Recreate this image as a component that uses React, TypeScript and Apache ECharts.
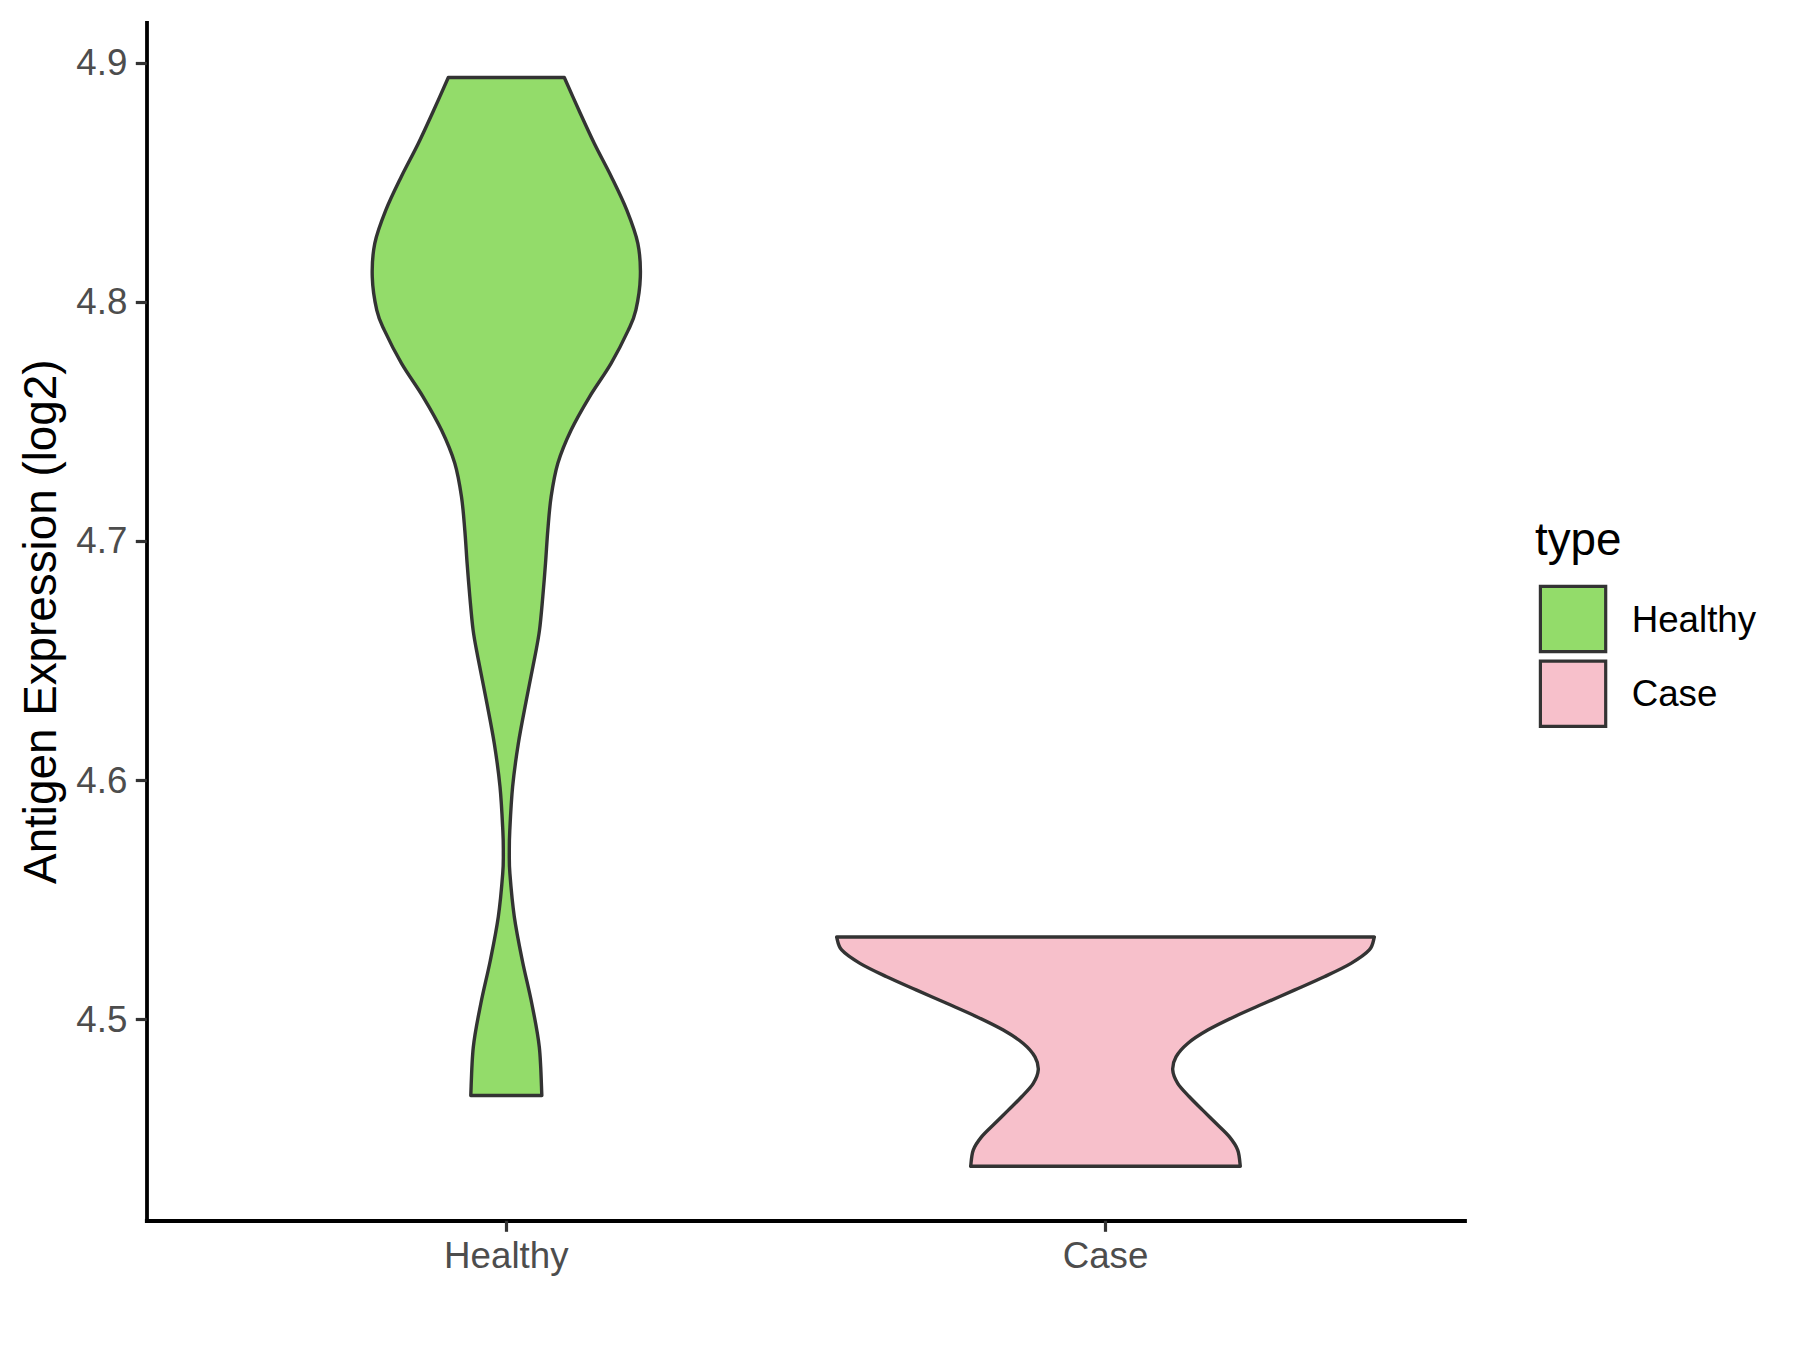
import React, { useEffect, useRef } from "react";
import * as echarts from "echarts";

// ---- data ----
const categories = ["Healthy", "Case"];
const categoryPositions = [1, 2];
const yTicks = [4.5, 4.6, 4.7, 4.8, 4.9];
const yMin = 4.4156;
const yMax = 4.9167;

// violin outline: y value (top -> bottom) and half width (in category units)
const healthyY = [4.8939, 4.8803, 4.8663, 4.8524, 4.8384, 4.8245, 4.8105, 4.7966, 4.7882, 4.7743, 4.7603, 4.7464, 4.7325, 4.7185, 4.7046, 4.6906, 4.6767, 4.6627, 4.6515, 4.6334, 4.6152, 4.5971, 4.5789, 4.5699, 4.5608, 4.5427, 4.5245, 4.5064, 4.4882, 4.468];
const healthyHalf = [0.0968, 0.121, 0.1469, 0.1753, 0.2011, 0.2195, 0.2237, 0.2162, 0.2036, 0.1749, 0.1389, 0.1082, 0.086, 0.0748, 0.0693, 0.0654, 0.0609, 0.0554, 0.0476, 0.0334, 0.02, 0.0105, 0.0058, 0.005, 0.006, 0.0134, 0.0267, 0.0426, 0.0551, 0.0593];

const caseY = [4.5343, 4.5289, 4.5233, 4.5177, 4.5121, 4.5066, 4.501, 4.4954, 4.4898, 4.4842, 4.4787, 4.4731, 4.4675, 4.4619, 4.4564, 4.4508, 4.4452, 4.4384];
const caseHalf = [0.4487, 0.4403, 0.4098, 0.3652, 0.3151, 0.2651, 0.215, 0.1706, 0.1372, 0.1177, 0.1122, 0.1205, 0.1399, 0.1622, 0.1844, 0.2066, 0.2207, 0.225];

const fills = ["#93DC6A", "#F7C0CB"];
const FONT = "'Liberation Sans', Arial, Helvetica, sans-serif";

function catmull(pts: number[][]): string {
  let d = "";
  for (let i = 0; i < pts.length - 1; i++) {
    const p0 = pts[i - 1] || pts[i];
    const p1 = pts[i];
    const p2 = pts[i + 1];
    const p3 = pts[i + 2] || p2;
    const c1x = p1[0] + (p2[0] - p0[0]) / 6;
    const c1y = p1[1] + (p2[1] - p0[1]) / 6;
    const c2x = p2[0] - (p3[0] - p1[0]) / 6;
    const c2y = p2[1] - (p3[1] - p1[1]) / 6;
    d += ` C ${c1x} ${c1y} ${c2x} ${c2y} ${p2[0]} ${p2[1]}`;
  }
  return d;
}

function violinRender(ys: number[], hws: number[], fill: string) {
  return (params: any, api: any) => {
    const xc = api.value(0);
    const left = ys.map((y, i) => api.coord([xc - hws[i], y]));
    const right = ys.map((y, i) => api.coord([xc + hws[i], y])).reverse();
    const d =
      `M ${left[0][0]} ${left[0][1]}` +
      catmull(left) +
      ` L ${right[0][0]} ${right[0][1]}` +
      catmull(right) +
      " Z";
    return {
      type: "path",
      shape: { pathData: d },
      style: { fill, stroke: "#333333", lineWidth: 3.4, lineJoin: "round" },
    };
  };
}

export default function App() {
  const ref = useRef<HTMLDivElement>(null);
  useEffect(() => {
    document.body.style.margin = "0";
    const chart = echarts.init(ref.current!, undefined, { renderer: "svg" });
    const option: any = {
      animation: false,
      backgroundColor: "#ffffff",
      grid: { left: 146.8, top: 23, width: 1318.2, height: 1197.8, containLabel: false },
      xAxis: {
        type: "value",
        min: 0.4,
        max: 2.6,
        splitLine: { show: false },
        axisLine: { show: true, onZero: false, lineStyle: { color: "#000000", width: 3.8, cap: "square" } },
        axisTick: { show: true, length: 11, customValues: categoryPositions, lineStyle: { color: "#333333", width: 3.2 } },
        axisLabel: {
          customValues: categoryPositions,
          formatter: (v: number) => categories[Math.round(v) - 1] || "",
          color: "#4D4D4D",
          fontSize: 36.7,
          fontFamily: FONT,
          margin: 16.5,
        },
      },
      yAxis: {
        type: "value",
        min: yMin,
        max: yMax,
        splitLine: { show: false },
        axisLine: { show: true, onZero: false, lineStyle: { color: "#000000", width: 3.8, cap: "square" } },
        axisTick: { show: true, length: 11, customValues: yTicks, lineStyle: { color: "#333333", width: 3.2 } },
        axisLabel: {
          customValues: yTicks,
          formatter: (v: number) => v.toFixed(1),
          color: "#4D4D4D",
          fontSize: 36.7,
          fontFamily: FONT,
          margin: 19.5,
        },
      },
      legend: {
        data: categories,
        orient: "vertical",
        left: 1538.8,
        top: 584.8,
        padding: 0,
        icon: "rect",
        itemWidth: 65.3,
        itemHeight: 65.3,
        itemGap: 6.2,
        selectedMode: false,
        itemStyle: { borderColor: "#333333", borderWidth: 3.2 },
        textStyle: { fontSize: 36.7, color: "#000000", fontFamily: FONT, padding: [0, 0, 0, 21] },
      },
      graphic: [
        {
          type: "text",
          x: 40,
          y: 621.7,
          rotation: Math.PI / 2,
          style: {
            text: "Antigen Expression (log2)",
            fontSize: 45.8,
            fontFamily: FONT,
            fill: "#000000",
            align: "center",
            verticalAlign: "middle",
          },
        },
        {
          type: "text",
          x: 1535,
          y: 539,
          style: {
            text: "type",
            fontSize: 45.8,
            fontFamily: FONT,
            fill: "#000000",
            align: "left",
            verticalAlign: "middle",
          },
        },
      ],
      series: [
        {
          name: categories[0],
          type: "custom",
          data: [[categoryPositions[0], healthyY[0]]],
          itemStyle: { color: fills[0], borderColor: "#333333", borderWidth: 3.4 },
          renderItem: violinRender(healthyY, healthyHalf, fills[0]),
        },
        {
          name: categories[1],
          type: "custom",
          data: [[categoryPositions[1], caseY[0]]],
          itemStyle: { color: fills[1], borderColor: "#333333", borderWidth: 3.4 },
          renderItem: violinRender(caseY, caseHalf, fills[1]),
        },
      ],
    };
    chart.setOption(option);
    return () => chart.dispose();
  }, []);
  return <div ref={ref} style={{ width: 1800, height: 1350 }} />;
}
